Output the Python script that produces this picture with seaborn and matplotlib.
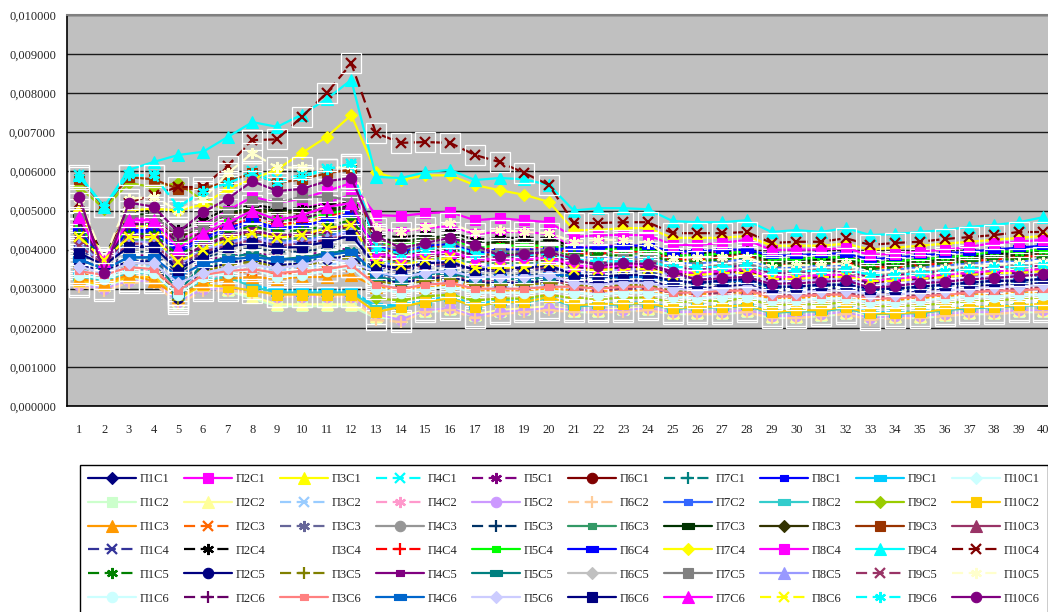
import numpy as np
import pandas as pd
import seaborn as sns
import matplotlib.pyplot as plt
from matplotlib.path import Path
from matplotlib.ticker import FuncFormatter, MultipleLocator

points = list(range(1, 41))

# values in units of 0.001, one row per П1..П10 (rows), groups С1..С6
c1_series = [
    [4.05,3.65,4.10,4.10,3.55,3.95,4.10,4.25,4.10,4.15,4.25,4.40, 3.55,3.45,3.60,3.65,3.45,3.50,3.50,3.55, 3.40,3.30,3.35,3.35,3.20,3.15,3.20,3.25,3.05,3.05,3.10,3.10,2.95,3.00,3.05,3.10,3.15,3.20,3.20,3.25],
    [4.70,3.70,4.70,4.70,4.25,4.50,4.80,5.10,4.95,5.05,5.20,5.40, 4.55,4.45,4.55,4.60,4.40,4.45,4.45,4.40, 4.05,4.10,4.10,4.10,3.90,3.90,3.95,4.00,3.75,3.75,3.80,3.80,3.65,3.70,3.75,3.80,3.85,3.95,3.95,4.00],
    [4.55,3.75,4.60,4.60,4.10,4.35,4.55,4.75,4.60,4.70,4.80,4.95, 4.10,4.00,4.10,4.15,3.95,4.00,4.00,4.05, 3.85,3.85,3.90,3.90,3.70,3.70,3.75,3.80,3.60,3.60,3.65,3.65,3.50,3.55,3.60,3.65,3.70,3.75,3.80,3.85],
    [5.90,5.10,5.90,5.90,5.10,5.45,5.75,6.00,5.80,5.90,6.05,6.20, 4.20,4.00,4.15,4.25,4.00,3.95,3.95,4.00, 3.70,3.65,3.70,3.70,3.50,3.50,3.55,3.55,3.40,3.40,3.45,3.45,3.30,3.35,3.40,3.45,3.50,3.55,3.55,3.60],
    [3.80,3.50,3.85,3.85,3.30,3.70,3.85,3.95,3.80,3.85,3.95,4.05, 3.40,3.30,3.40,3.45,3.30,3.30,3.30,3.35, 3.25,3.15,3.20,3.20,3.05,3.00,3.05,3.10,2.90,2.90,2.95,2.95,2.85,2.85,2.90,2.95,3.00,3.05,3.05,3.10],
    [4.25,3.65,4.30,4.30,3.70,4.10,4.30,4.45,4.30,4.35,4.45,4.60, 3.80,3.70,3.80,3.85,3.70,3.70,3.70,3.75, 3.55,3.50,3.55,3.55,3.40,3.35,3.40,3.45,3.25,3.25,3.30,3.30,3.15,3.20,3.25,3.30,3.35,3.40,3.40,3.45],
    [3.65,3.45,3.75,3.75,3.10,3.55,3.70,3.80,3.70,3.70,3.80,3.90, 3.30,3.20,3.30,3.35,3.20,3.20,3.20,3.25, 3.15,3.10,3.15,3.15,3.00,2.95,3.00,3.05,2.85,2.85,2.90,2.90,2.80,2.80,2.85,2.90,2.95,3.00,3.00,3.05],
    [4.45,3.70,4.45,4.45,3.90,4.25,4.45,4.70,4.50,4.60,4.75,4.95, 4.05,3.95,4.05,4.10,3.90,3.95,3.95,4.00, 3.95,3.95,4.00,4.00,3.85,3.85,3.90,3.90,3.75,3.75,3.80,3.80,3.65,3.70,3.75,3.80,3.85,3.90,3.95,4.00],
    [3.40,3.30,3.50,3.50,2.95,3.30,3.35,3.10,2.95,2.95,2.95,2.95, 2.55,2.60,2.70,2.80,2.60,2.70,2.70,2.80, 2.60,2.62,2.64,2.65,2.52,2.55,2.55,2.60,2.42,2.45,2.46,2.55,2.40,2.40,2.42,2.48,2.55,2.55,2.60,2.62],
    [3.45,3.30,3.55,3.55,2.95,3.35,3.50,3.60,3.45,3.50,3.60,3.70, 3.20,3.10,3.20,3.25,3.10,3.10,3.10,3.15, 3.05,3.00,3.05,3.05,2.95,2.90,2.95,2.95,2.80,2.80,2.85,2.85,2.75,2.75,2.80,2.85,2.90,2.95,2.95,3.00],
]
c2_series = [
    [3.15,3.05,3.25,3.25,2.60,3.05,2.95,2.75,2.55,2.55,2.55,2.55, 2.25,2.25,2.40,2.45,2.30,2.40,2.45,2.50, 2.40,2.40,2.45,2.45,2.35,2.35,2.35,2.40,2.25,2.25,2.30,2.35,2.25,2.25,2.25,2.30,2.35,2.35,2.40,2.40],
    [3.20,3.10,3.30,3.30,2.70,3.10,3.00,2.80,2.60,2.60,2.60,2.60, 2.30,2.30,2.45,2.50,2.35,2.45,2.50,2.55, 2.45,2.45,2.50,2.50,2.40,2.40,2.40,2.45,2.30,2.30,2.35,2.40,2.30,2.30,2.30,2.35,2.40,2.40,2.45,2.45],
    [3.50,3.35,3.60,3.60,3.00,3.40,3.50,3.60,3.45,3.55,3.60,3.70, 3.15,3.05,3.15,3.20,3.05,3.05,3.05,3.10, 3.00,2.95,3.00,3.00,2.90,2.85,2.90,2.90,2.75,2.75,2.80,2.80,2.70,2.70,2.75,2.80,2.85,2.90,2.90,2.95],
    [3.35,3.25,3.45,3.45,2.85,3.25,3.40,3.45,3.35,3.35,3.45,3.55, 3.05,2.95,3.05,3.10,2.95,2.95,2.95,3.00, 2.95,2.90,2.95,2.95,2.85,2.80,2.85,2.85,2.70,2.70,2.75,2.75,2.65,2.65,2.70,2.75,2.80,2.85,2.85,2.90],
    [3.10,3.00,3.20,3.20,2.65,3.00,3.00,3.00,2.80,2.80,2.80,2.80, 2.35,2.20,2.45,2.50,2.30,2.40,2.45,2.50, 2.45,2.45,2.45,2.50,2.40,2.40,2.40,2.45,2.30,2.30,2.35,2.40,2.25,2.30,2.30,2.35,2.40,2.40,2.45,2.45],
    [3.05,2.95,3.15,3.15,2.60,2.95,2.95,2.90,2.80,2.80,2.80,2.80, 2.20,2.15,2.40,2.45,2.25,2.35,2.40,2.45, 2.40,2.40,2.40,2.45,2.35,2.35,2.35,2.40,2.25,2.25,2.30,2.35,2.20,2.25,2.25,2.30,2.35,2.35,2.40,2.40],
    [4.15,3.65,4.20,4.20,3.65,4.00,4.20,4.35,4.20,4.25,4.35,4.50, 3.70,3.60,3.70,3.75,3.60,3.60,3.60,3.65, 3.80,3.80,3.80,3.80,3.65,3.65,3.70,3.75,3.55,3.55,3.60,3.60,3.45,3.50,3.55,3.60,3.65,3.70,3.70,3.75],
    [3.30,3.20,3.40,3.40,2.80,3.20,3.30,3.05,2.90,2.90,2.90,2.90, 2.50,2.55,2.65,2.75,2.55,2.65,2.65,2.75, 2.55,2.58,2.60,2.62,2.48,2.52,2.52,2.56,2.38,2.42,2.42,2.50,2.35,2.36,2.38,2.45,2.50,2.52,2.56,2.58],
    [5.60,5.05,5.70,5.60,5.70,5.25,5.00,5.00,4.95,4.95,5.00,5.05, 2.75,2.70,2.80,2.85,2.70,2.75,2.75,2.85, 2.75,2.75,2.75,2.78,2.65,2.68,2.70,2.75,2.58,2.60,2.60,2.65,2.55,2.55,2.58,2.62,2.68,2.70,2.74,2.76],
    [3.20,3.10,3.30,3.30,2.75,3.10,3.05,2.95,2.85,2.85,2.85,2.85, 2.40,2.54,2.66,2.76,2.54,2.66,2.66,2.79, 2.58,2.61,2.62,2.63,2.50,2.54,2.54,2.58,2.40,2.45,2.45,2.53,2.37,2.37,2.40,2.47,2.54,2.54,2.58,2.61],
]
c3_series = [
    [3.25,3.15,3.35,3.20,2.80,3.15,3.25,3.30,3.25,3.30,3.30,3.35, 3.05,3.00,3.05,3.10,2.95,2.95,2.95,3.00, 2.95,2.95,2.95,2.95,2.85,2.85,2.90,2.90,2.75,2.75,2.80,2.80,2.70,2.70,2.75,2.80,2.85,2.85,2.90,2.90],
    [3.40,3.25,3.45,3.40,2.95,3.30,3.40,3.45,3.40,3.40,3.45,3.55, 3.20,3.15,3.20,3.20,3.05,3.10,3.10,3.15, 3.10,3.05,3.10,3.10,2.95,2.95,3.00,3.00,2.85,2.85,2.90,2.90,2.80,2.80,2.85,2.90,2.95,3.00,3.00,3.05],
    [3.70,3.45,3.75,3.75,3.20,3.60,3.75,3.85,3.70,3.75,3.85,3.95, 3.35,3.25,3.35,3.40,3.25,3.25,3.25,3.30, 3.20,3.15,3.20,3.20,3.05,3.05,3.10,3.10,2.95,2.95,3.00,3.00,2.90,2.90,2.95,3.00,3.05,3.10,3.10,3.15],
    [4.35,3.65,4.40,4.40,3.85,4.20,4.40,4.55,4.40,4.45,4.55,4.70, 3.90,3.80,3.90,3.95,3.80,3.80,3.80,3.85, 3.65,3.60,3.65,3.65,3.50,3.45,3.50,3.55,3.35,3.35,3.40,3.40,3.25,3.30,3.35,3.40,3.45,3.50,3.50,3.55],
    [3.90,3.55,3.95,3.95,3.40,3.80,3.95,4.05,3.95,3.95,4.05,4.15, 3.45,3.35,3.45,3.50,3.35,3.35,3.35,3.40, 3.30,3.25,3.30,3.30,3.15,3.10,3.15,3.20,3.00,3.00,3.05,3.05,2.95,2.95,3.00,3.05,3.10,3.15,3.15,3.20],
    [4.20,3.65,4.25,4.25,3.70,4.05,4.25,4.40,4.25,4.30,4.40,4.55, 3.75,3.65,3.75,3.80,3.65,3.65,3.65,3.70, 3.90,3.90,3.90,3.90,3.75,3.75,3.80,3.85,3.65,3.65,3.70,3.70,3.55,3.60,3.65,3.70,3.75,3.80,3.80,3.85],
    [4.90,3.75,4.90,4.90,4.35,4.65,4.95,5.05,5.00,5.00,5.05,5.10, 4.30,4.20,4.30,4.35,4.15,4.20,4.20,4.20, 4.00,4.00,4.05,4.05,3.85,3.85,3.90,3.95,3.70,3.70,3.75,3.75,3.60,3.65,3.70,3.75,3.80,3.85,3.90,3.95],
    [4.80,3.75,4.85,4.85,4.30,4.60,4.90,5.00,4.95,4.95,5.00,5.05, 4.25,4.15,4.25,4.30,4.10,4.15,4.15,4.15, 3.95,3.95,4.00,4.00,3.80,3.80,3.85,3.90,3.65,3.65,3.70,3.70,3.55,3.60,3.65,3.70,3.75,3.80,3.85,3.90],
    [5.80,5.10,5.85,5.80,5.55,5.55,5.75,5.95,5.70,5.80,5.95,6.05, 4.05,3.90,4.05,4.10,3.90,3.85,3.85,3.90, 3.60,3.55,3.60,3.60,3.45,3.40,3.45,3.50,3.30,3.30,3.35,3.35,3.20,3.25,3.30,3.35,3.40,3.45,3.45,3.50],
    [4.75,3.70,4.75,4.75,4.20,4.45,4.65,5.00,4.75,4.90,5.10,5.25, 3.30,3.20,3.30,3.35,3.20,3.20,3.15,3.20, 3.10,3.05,3.05,3.05,2.95,2.90,2.95,3.00,2.85,2.85,2.90,2.90,2.80,2.80,2.85,2.90,2.95,3.00,3.00,3.05],
]
c4_series = [
    [4.00,3.60,4.05,4.05,3.50,3.90,4.05,4.20,4.05,4.10,4.20,4.35, 3.50,3.40,3.55,3.60,3.40,3.45,3.45,3.50, 3.45,3.40,3.45,3.45,3.30,3.25,3.30,3.35,3.15,3.15,3.20,3.20,3.05,3.10,3.15,3.20,3.25,3.30,3.30,3.35],
    [5.05,3.80,5.00,5.00,4.50,4.75,5.05,5.15,5.05,5.05,5.15,5.25, 4.40,4.30,4.40,4.45,4.25,4.30,4.30,4.30, 4.05,4.05,4.10,4.10,3.90,3.90,3.95,4.00,3.75,3.75,3.80,3.80,3.70,3.70,3.75,3.80,3.85,3.90,3.95,4.00],
    [4.00,3.60,4.05,4.05,3.50,3.90,4.05,4.20,4.05,4.10,4.20,4.35, 3.50,3.40,3.55,3.60,3.40,3.45,3.45,3.50, 3.45,3.40,3.45,3.45,3.30,3.25,3.30,3.35,3.15,3.15,3.20,3.20,3.05,3.10,3.15,3.20,3.25,3.30,3.30,3.35],
    [4.55,3.70,4.55,4.55,4.05,4.35,4.60,4.80,4.65,4.70,4.85,5.00, 4.15,4.05,4.15,4.20,4.00,4.05,4.05,4.05, 3.90,3.90,3.95,3.95,3.75,3.75,3.80,3.85,3.60,3.60,3.65,3.65,3.55,3.55,3.60,3.65,3.70,3.75,3.80,3.85],
    [4.65,3.70,4.65,4.65,4.15,4.40,4.70,4.90,4.75,4.80,4.90,5.05, 4.20,4.10,4.20,4.25,4.05,4.10,4.10,4.10, 4.00,4.00,4.00,4.00,3.85,3.85,3.90,3.95,3.75,3.75,3.80,3.80,3.65,3.70,3.75,3.80,3.85,3.95,3.95,4.00],
    [4.50,3.70,4.50,4.50,4.00,4.30,4.55,4.75,4.55,4.60,4.75,4.90, 4.10,4.00,4.10,4.15,3.95,4.00,4.00,4.00, 4.05,4.05,4.10,4.10,3.95,3.95,4.00,4.00,3.85,3.85,3.90,3.90,3.75,3.80,3.85,3.90,3.95,4.00,4.05,4.10],
    [5.00,3.75,5.00,5.05,5.00,5.15,5.55,5.80,6.05,6.47,6.88,7.44, 5.98,5.78,5.90,5.90,5.65,5.52,5.40,5.22, 4.50,4.50,4.55,4.55,4.30,4.30,4.30,4.35,4.10,4.10,4.10,4.15,4.00,4.05,4.10,4.15,4.20,4.25,4.30,4.35],
    [4.80,3.70,4.80,4.80,4.40,4.60,5.00,5.35,5.20,5.30,5.50,5.70, 4.88,4.86,4.93,4.96,4.75,4.80,4.75,4.70, 4.32,4.37,4.37,4.37,4.12,4.12,4.17,4.25,3.99,4.00,4.00,4.04,3.86,3.90,3.95,4.00,4.07,4.17,4.20,4.25],
    [5.90,5.10,6.04,6.24,6.42,6.50,6.88,7.26,7.14,7.45,7.85,8.34, 5.86,5.83,5.98,6.04,5.78,5.83,5.80,5.65, 5.00,5.06,5.06,5.03,4.73,4.70,4.70,4.75,4.45,4.50,4.45,4.55,4.37,4.40,4.45,4.50,4.58,4.63,4.70,4.83],
    [5.20,3.70,5.20,5.40,5.60,5.60,6.15,6.80,6.82,7.40,8.00,8.76, 6.98,6.73,6.75,6.73,6.42,6.24,5.96,5.65, 4.68,4.68,4.70,4.70,4.42,4.42,4.42,4.45,4.17,4.20,4.20,4.29,4.12,4.17,4.20,4.27,4.32,4.37,4.45,4.45],
]
c5_series = [
    [4.40,3.70,4.40,4.40,3.85,4.20,4.45,4.60,4.45,4.50,4.60,4.75, 4.00,3.90,4.00,4.05,3.85,3.90,3.90,3.95, 3.85,3.85,3.85,3.85,3.70,3.70,3.75,3.80,3.60,3.60,3.65,3.65,3.50,3.55,3.60,3.65,3.70,3.75,3.75,3.80],
    [3.60,3.45,3.70,3.70,2.75,3.50,3.65,3.75,3.60,3.65,3.75,3.85, 3.25,3.15,3.25,3.30,3.15,3.15,3.15,3.20, 3.20,3.15,3.20,3.20,3.05,3.00,3.05,3.10,2.95,2.95,3.00,3.00,2.90,2.90,2.95,3.00,3.05,3.10,3.10,3.15],
    [3.55,3.40,3.65,3.65,2.70,3.45,3.60,3.70,3.55,3.60,3.70,3.80, 3.20,3.10,3.20,3.25,3.10,3.10,3.10,3.15, 3.10,3.05,3.10,3.10,2.95,2.95,3.00,3.05,2.90,2.90,2.95,2.95,2.85,2.85,2.90,2.95,3.00,3.05,3.05,3.10],
    [4.30,3.65,4.35,4.35,3.75,4.10,4.35,4.50,4.35,4.40,4.50,4.65, 3.85,3.75,3.85,3.90,3.75,3.75,3.75,3.80, 3.70,3.65,3.70,3.70,3.55,3.50,3.55,3.60,3.40,3.40,3.45,3.45,3.30,3.35,3.40,3.45,3.50,3.55,3.55,3.60],
    [3.75,3.50,3.80,3.80,2.90,3.65,3.80,3.90,3.75,3.80,3.90,4.00, 3.30,3.20,3.35,3.40,3.25,3.25,3.25,3.30, 3.35,3.30,3.35,3.35,3.20,3.15,3.20,3.25,3.05,3.05,3.10,3.10,3.00,3.00,3.05,3.10,3.15,3.20,3.20,3.25],
    [3.95,3.55,4.00,4.00,3.45,3.85,4.00,4.10,4.00,4.00,4.10,4.20, 3.50,3.40,3.50,3.55,3.40,3.40,3.40,3.45, 3.35,3.30,3.35,3.35,3.20,3.15,3.20,3.25,3.05,3.05,3.10,3.10,3.00,3.00,3.05,3.10,3.15,3.20,3.20,3.25],
    [4.80,3.75,4.85,4.85,4.40,4.58,4.95,5.25,5.20,5.35,5.35,5.27, 4.15,4.00,4.15,4.20,4.00,3.95,3.95,4.00, 3.75,3.70,3.75,3.75,3.60,3.55,3.60,3.65,3.45,3.45,3.50,3.50,3.35,3.40,3.45,3.50,3.55,3.60,3.60,3.65],
    [4.15,3.60,4.20,4.20,3.60,4.00,4.15,4.30,4.15,4.20,4.30,4.45, 3.65,3.55,3.65,3.70,3.55,3.55,3.55,3.60, 3.50,3.45,3.50,3.50,3.35,3.30,3.35,3.40,3.20,3.20,3.25,3.25,3.10,3.15,3.20,3.25,3.30,3.35,3.35,3.40],
    [4.10,3.60,4.15,4.15,3.60,3.95,4.10,4.25,4.10,4.15,4.25,4.40, 3.60,3.50,3.60,3.65,3.50,3.50,3.50,3.55, 3.00,2.95,3.00,3.00,2.90,2.85,2.90,2.95,2.80,2.80,2.85,2.85,2.75,2.75,2.80,2.85,2.90,2.95,2.95,3.00],
    [5.30,3.75,5.30,5.35,5.00,5.30,5.95,6.47,6.10,6.10,6.05,6.15, 4.55,4.45,4.57,4.68,4.42,4.50,4.45,4.42, 4.20,4.25,4.25,4.17,3.78,3.81,3.81,3.81,3.56,3.60,3.60,3.65,3.40,3.43,3.48,3.53,3.56,3.60,3.65,3.68],
]
c6_series = [
    [3.35,3.25,3.45,3.40,2.85,3.30,3.40,3.50,3.30,3.35,3.45,3.55, 3.00,2.90,3.00,3.05,2.90,2.90,2.90,2.95, 2.90,2.85,2.90,2.90,2.80,2.75,2.80,2.80,2.70,2.70,2.75,2.75,2.65,2.65,2.70,2.75,2.80,2.80,2.85,2.85],
    [4.70,3.65,4.65,4.65,4.20,4.40,4.65,4.90,4.70,4.80,4.95,5.10, 3.95,3.85,3.95,4.00,3.85,3.80,3.80,3.85, 3.55,3.50,3.55,3.55,3.40,3.35,3.40,3.45,3.25,3.25,3.30,3.30,3.15,3.20,3.25,3.30,3.35,3.40,3.40,3.45],
    [3.45,3.35,3.55,3.50,2.95,3.35,3.45,3.50,3.40,3.45,3.50,3.60, 3.10,3.00,3.10,3.15,3.00,3.00,3.00,3.05, 3.05,3.00,3.05,3.05,2.90,2.90,2.95,2.95,2.80,2.80,2.85,2.85,2.75,2.75,2.80,2.85,2.90,2.95,2.95,3.00],
    [3.75,3.50,3.80,3.80,3.30,3.65,3.75,3.80,3.75,3.75,3.85,3.95, 3.40,3.30,3.40,3.45,3.30,3.30,3.30,3.35, 3.35,3.30,3.30,3.30,3.20,3.15,3.20,3.20,3.05,3.05,3.10,3.10,3.00,3.00,3.05,3.10,3.15,3.20,3.20,3.25],
    [3.56,3.40,3.65,3.65,3.14,3.40,3.53,3.60,3.53,3.60,3.78,3.68, 3.43,3.30,3.40,3.45,3.30,3.30,3.30,3.35, 3.15,3.10,3.15,3.15,3.00,2.95,3.00,3.05,2.90,2.90,2.95,2.95,2.85,2.85,2.90,2.95,3.00,3.05,3.05,3.10],
    [3.91,3.60,4.07,4.07,3.48,3.85,4.07,4.17,4.04,4.07,4.20,4.37, 3.60,3.53,3.65,3.68,3.48,3.53,3.53,3.60, 3.35,3.30,3.35,3.35,3.20,3.15,3.20,3.25,3.05,3.05,3.10,3.10,3.00,3.00,3.05,3.10,3.15,3.20,3.20,3.25],
    [4.83,3.70,4.75,4.75,4.04,4.42,4.68,5.00,4.75,4.88,5.09,5.19, 3.90,3.80,3.90,3.95,3.75,3.75,3.75,3.80, 3.60,3.55,3.60,3.60,3.45,3.40,3.45,3.50,3.30,3.30,3.35,3.35,3.20,3.25,3.30,3.35,3.40,3.45,3.45,3.50],
    [4.32,3.73,4.32,4.32,3.68,3.99,4.25,4.42,4.30,4.37,4.55,4.63, 3.68,3.60,3.73,3.78,3.53,3.53,3.55,3.65, 3.48,3.48,3.50,3.50,3.35,3.35,3.40,3.40,3.25,3.25,3.30,3.30,3.20,3.20,3.25,3.30,3.35,3.40,3.40,3.45],
    [5.85,5.10,5.90,5.90,5.10,5.50,5.70,5.95,5.70,5.85,6.05,6.20, 4.04,3.90,4.00,4.10,3.90,3.85,3.85,3.90, 3.75,3.70,3.70,3.70,3.55,3.55,3.55,3.60,3.45,3.45,3.45,3.50,3.35,3.35,3.40,3.45,3.50,3.55,3.55,3.60],
    [5.35,3.40,5.20,5.10,4.45,4.95,5.30,5.75,5.50,5.55,5.75,5.83, 4.35,4.04,4.17,4.30,4.12,3.84,3.89,3.94, 3.76,3.58,3.65,3.63,3.43,3.22,3.27,3.30,3.12,3.14,3.17,3.22,3.02,3.07,3.14,3.17,3.24,3.27,3.32,3.37],
]

groups = ["С1", "С2", "С3", "С4", "С5", "С6"]
all_series = [c1_series, c2_series, c3_series, c4_series, c5_series, c6_series]

group_colors = [
    ['#000080', '#FF00FF', '#FFFF00', '#00FFFF', '#800080', '#800000', '#008080', '#0000FF', '#00CCFF', '#CCFFFF'],
    ['#CCFFCC', '#FFFF99', '#99CCFF', '#FF99CC', '#CC99FF', '#FFCC99', '#3366FF', '#33CCCC', '#99CC00', '#FFCC00'],
    ['#FF9900', '#FF6600', '#666699', '#969696', '#003366', '#339966', '#003300', '#333300', '#993300', '#993366'],
    ['#333399', '#000000', '#FFFFFF', '#FF0000', '#00FF00', '#0000FF', '#FFFF00', '#FF00FF', '#00FFFF', '#800000'],
    ['#008000', '#000080', '#808000', '#800080', '#008080', '#C0C0C0', '#808080', '#9999FF', '#993366', '#FFFFCC'],
    ['#CCFFFF', '#660066', '#FF8080', '#0066CC', '#CCCCFF', '#000080', '#FF00FF', '#FFFF00', '#00FFFF', '#800080'],
]

# excel style automatic marker cycle
short_bar = Path([(-0.6, -0.45), (0.6, -0.45), (0.6, 0.45), (-0.6, 0.45), (-0.6, -0.45)])
long_bar = Path([(-1.0, -0.45), (1.0, -0.45), (1.0, 0.45), (-1.0, 0.45), (-1.0, -0.45)])
marker_cycle = ['D', 's', '^', 'x', (6, 2, 0), 'o', '+', short_bar, long_bar]
marker_size = {0: 6.5, 1: 7, 2: 8, 3: 7, 4: 8, 5: 7.5, 6: 8, 7: 6, 8: 8.5}
boxed = {3, 4, 5, 6}

sns.set_style("white")
plt.rcParams['font.family'] = ['Liberation Serif', 'DejaVu Serif']

fig = plt.figure(figsize=(10.48, 6.12), dpi=100)
ax = fig.add_axes([67 / 1048, 206 / 612, 988.8 / 1048, 391 / 612])
ax.set_facecolor('#C0C0C0')

handles = [[None] * 10 for _ in groups]
for g, grp in enumerate(groups):
    for p in range(10):
        k = (g * 10 + p) % 9
        name = f"П{p + 1}{grp}"
        vals = np.array(all_series[g][p]) / 1000
        col = group_colors[g][p]
        if name == "П3С4":
            sns.lineplot(x=points, y=vals, ax=ax, linestyle='none', marker='None',
                         color=col, errorbar=None, estimator=None, sort=False)
            handles[g][p] = ax.lines[-1]
            continue
        dashed = k in (3, 4, 6)
        sns.lineplot(x=points, y=vals, ax=ax, color=col, lw=1.6,
                     linestyle=(0, (5, 2.5)) if dashed else '-',
                     marker=marker_cycle[k], markersize=marker_size[k],
                     markerfacecolor=col, markeredgecolor=col,
                     markeredgewidth=1.6 if k in (3, 4, 6) else 0.8,
                     errorbar=None, estimator=None, sort=False)
        handles[g][p] = ax.lines[-1]
        if k in boxed:
            sns.lineplot(x=points, y=vals, ax=ax, linestyle='none', marker='s',
                         markersize=14, markerfacecolor='none', markeredgecolor='white',
                         markeredgewidth=0.9, errorbar=None, estimator=None, sort=False)

ax.set_xlim(0.5, 40.5)
ax.set_ylim(0, 0.010)
ax.yaxis.set_major_locator(MultipleLocator(0.001))
ax.yaxis.set_major_formatter(FuncFormatter(lambda v, _: f"{v:.6f}".replace('.', ',')))
ax.set_xticks(points)
ax.set_xticklabels([str(i) for i in points])
ax.set_xticks(np.arange(0.5, 41, 1), minor=True)
ax.tick_params(axis='x', which='major', length=0, pad=13, labelsize=9)
ax.tick_params(axis='x', which='minor', length=5, width=1, color='black', direction='out')
ax.tick_params(axis='y', length=5, width=1, color='black', direction='out', pad=3, labelsize=9)
ax.yaxis.grid(True, color='#1a1a1a', lw=1)
ax.xaxis.grid(False)
ax.set_axisbelow(True)
ax.set_xlabel('')
ax.set_ylabel('')
for side in ['left', 'bottom']:
    ax.spines[side].set_color('black')
    ax.spines[side].set_linewidth(1.2)
ax.spines['top'].set_color('#808080')
ax.spines['top'].set_linewidth(1.5)
ax.spines['right'].set_visible(False)

# legend filled row by row: one row per С group
leg_handles = [handles[g][p] for p in range(10) for g in range(len(groups))]
leg_labels = [f"П{p + 1}{groups[g]}" for p in range(10) for g in range(len(groups))]
leg = fig.legend(leg_handles, leg_labels, ncol=10, loc='upper left',
                 bbox_to_anchor=(80 / 1048, 1 - 465 / 612), bbox_transform=fig.transFigure,
                 fontsize=9, frameon=True, fancybox=False, framealpha=1,
                 edgecolor='black', handlelength=3.8, handletextpad=0.3,
                 columnspacing=1.2, labelspacing=0.95, borderpad=0.65, borderaxespad=0)
leg.get_frame().set_linewidth(1.0)

fig.savefig('out.png', dpi=100)
